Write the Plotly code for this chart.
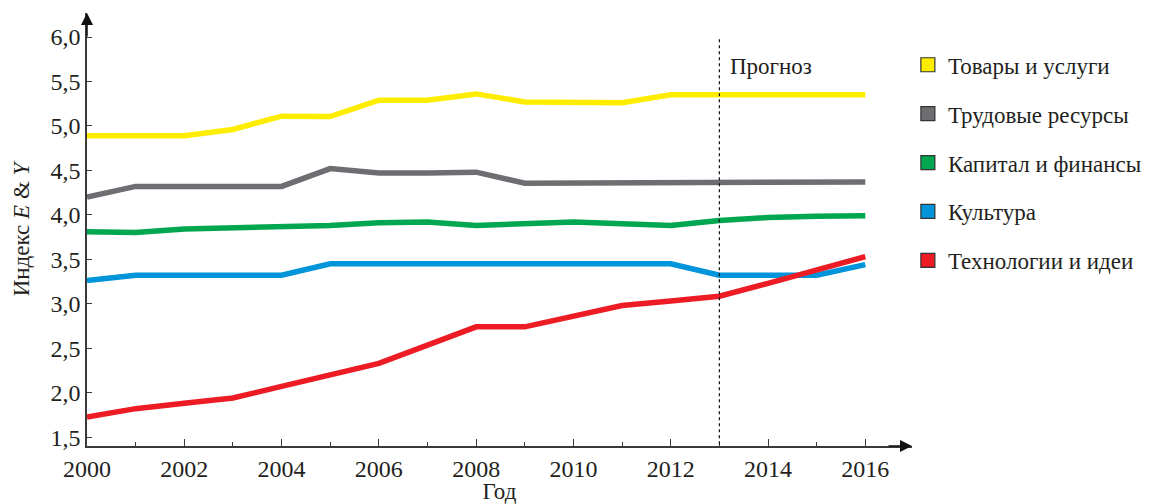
import plotly.graph_objects as go

years = list(range(2000, 2017))
series_names = ["Товары и услуги", "Трудовые ресурсы", "Капитал и финансы", "Культура", "Технологии и идеи"]
goods = [4.89, 4.89, 4.89, 4.96, 5.11, 5.105, 5.29, 5.29, 5.36, 5.27, 5.27, 5.26, 5.35, 5.35, 5.35, 5.35, 5.35]
labour = [4.20, 4.32, 4.32, 4.32, 4.32, 4.52, 4.47, 4.47, 4.48, 4.355, 4.355, 4.36, 4.36, 4.36, 4.365, 4.365, 4.37]
capital = [3.81, 3.80, 3.84, 3.85, 3.87, 3.88, 3.91, 3.92, 3.88, 3.90, 3.92, 3.90, 3.88, 3.935, 3.97, 3.985, 3.99]
culture = [3.26, 3.32, 3.32, 3.32, 3.32, 3.45, 3.45, 3.45, 3.45, 3.45, 3.45, 3.45, 3.45, 3.32, 3.32, 3.32, 3.44]
tech = [1.725, 1.82, 1.88, 1.94, 2.07, 2.20, 2.33, 2.535, 2.74, 2.74, 2.86, 2.98, 3.03, 3.085, 3.23, 3.385, 3.53]
colors = ["#FFED00", "#6D6E71", "#00A650", "#0095DA", "#ED1C24"]

y_ticks = [1.5, 2.0, 2.5, 3.0, 3.5, 4.0, 4.5, 5.0, 5.5, 6.0]
y_ticktext = ["1,5", "2,0", "2,5", "3,0", "3,5", "4,0", "4,5", "5,0", "5,5", "6,0"]
x_ticks = list(range(2000, 2017, 2))
forecast_year = 2013

FONT = "Liberation Serif"
TXT = "#231F20"
AX = "#3A3A3A"

fig = go.Figure()
data = [goods, labour, capital, culture, tech]
for name, vals, col in zip(series_names, data, colors):
    fig.add_trace(go.Scatter(x=years, y=vals, mode="lines", line=dict(color=col, width=5.5),
                             showlegend=False, hoverinfo="skip"))
for i, (name, col) in enumerate(zip(series_names, colors)):
    fig.add_trace(go.Scatter(x=[None], y=[None], mode="markers", name=name, legendgroup=str(i),
                             marker=dict(symbol="square", size=14, color=col,
                                         line=dict(color="#333333", width=1.2))))

fig.add_shape(type="line", x0=forecast_year, x1=forecast_year, y0=1.42, y1=5.98, xref="x", yref="y",
              line=dict(color="#111111", width=1.2, dash="dot"))
fig.add_annotation(x=forecast_year, y=5.665, xref="x", yref="y", text="Прогноз", showarrow=False,
                   xanchor="left", xshift=9, font=dict(family=FONT, size=23, color=TXT))

# axis arrows
fig.add_annotation(x=0, y=1, xref="paper", yref="paper", ax=0, ay=25,
                   text="", showarrow=True, arrowhead=2, arrowsize=1.6, arrowwidth=1.5, arrowcolor="#111111")
fig.add_annotation(x=1, y=0, xref="paper", yref="paper", ax=-25, ay=0,
                   text="", showarrow=True, arrowhead=2, arrowsize=1.6, arrowwidth=1.5, arrowcolor="#111111")

fig.update_layout(
    width=1143, height=496,
    margin=dict(l=79, r=239, t=5, b=58, autoexpand=False),
    paper_bgcolor="white", plot_bgcolor="white",
    font=dict(family=FONT, size=23, color=TXT),
    legend=dict(x=0.995, y=0.93, xanchor="left", yanchor="top", traceorder="grouped",
                tracegroupgap=16, font=dict(family=FONT, size=23, color=TXT),
                itemwidth=30, bgcolor="rgba(0,0,0,0)"),
    xaxis=dict(range=[2000, 2016.96], tickvals=x_ticks, ticktext=[str(v) for v in x_ticks],
               showgrid=False, zeroline=False, showline=True, linecolor=AX, linewidth=1.5,
               ticks="inside", ticklen=7, tickwidth=1.3, tickcolor=AX, automargin=False,
               minor=dict(dtick=1, tick0=2000, ticks="inside", ticklen=4, tickwidth=1.2, tickcolor=AX),
               tickfont=dict(family=FONT, size=24, color=TXT),
               title=dict(text="Год", font=dict(family=FONT, size=23, color=TXT), standoff=6)),
    yaxis=dict(range=[1.40, 6.27], tickvals=y_ticks, ticktext=y_ticktext, automargin=False,
               showgrid=False, zeroline=False, showline=True, linecolor=AX, linewidth=1.5,
               ticks="inside", ticklen=5, tickwidth=1.3, tickcolor=AX,
               tickfont=dict(family=FONT, size=24, color=TXT),
               title=dict(text="Индекс <i>E</i> & <i>Y</i>", font=dict(family=FONT, size=23, color=TXT), standoff=14)),
)

fig.write_html("out.html")
